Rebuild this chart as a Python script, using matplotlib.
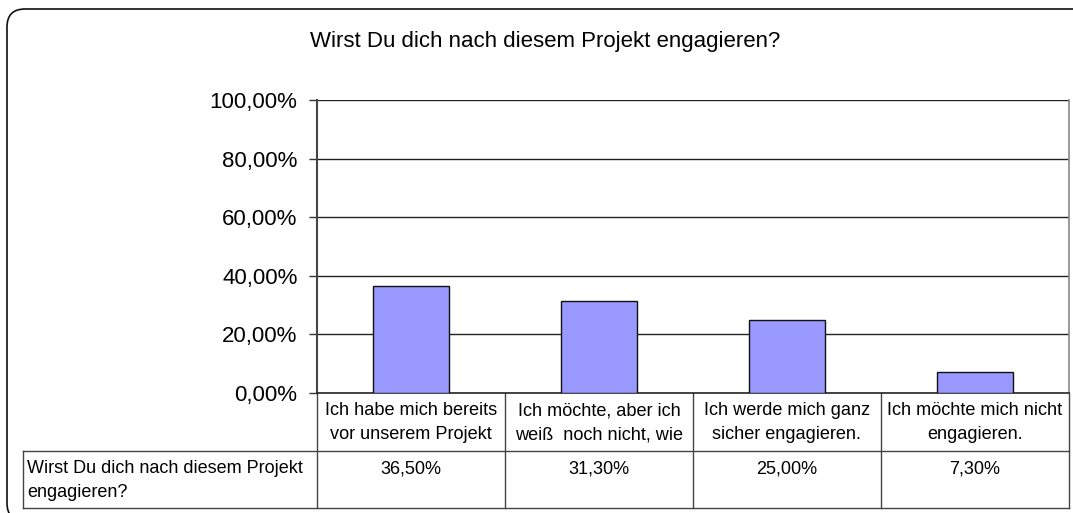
import numpy as np
import matplotlib
matplotlib.use("Agg")
import matplotlib.pyplot as plt
from matplotlib.patches import FancyBboxPatch
from matplotlib.transforms import blended_transform_factory
from matplotlib.ticker import FuncFormatter

plt.rcParams['font.family'] = ['Liberation Sans', 'DejaVu Sans']

TITLE = "Wirst Du dich nach diesem Projekt engagieren?"
SERIES = "Wirst Du dich nach diesem Projekt\nengagieren?"
CATS = ["Ich habe mich bereits\nvor unserem Projekt",
        "Ich möchte, aber ich\nweiß  noch nicht, wie",
        "Ich werde mich ganz\nsicher engagieren.",
        "Ich möchte mich nicht\nengagieren."]
VALUES = [36.5, 31.3, 25.0, 7.3]
YTICKS = [0, 20, 40, 60, 80, 100]

W, H = 1073, 513
fig = plt.figure(figsize=(W / 100, H / 100), dpi=100)

# outer rounded frame (partly cut off right/bottom, as in the original export)
frame = FancyBboxPatch((0.07, -0.08), 10.9, 5.12, boxstyle="round,pad=0,rounding_size=0.18",
                       transform=fig.dpi_scale_trans, fc="none", ec="#111111", lw=1.2, zorder=-1)
fig.patches.append(frame)

ax = fig.add_axes([317 / W, 120 / H, 752 / W, 293 / H])
ax.set_facecolor("none")
x = np.arange(len(CATS))
ax.bar(x, VALUES, width=0.40, color="#9999ff", edgecolor="#111111", lw=1.0, zorder=3)
ax.set_xlim(-0.5, len(CATS) - 0.5)
ax.set_ylim(0, 100)
ax.set_yticks(YTICKS)
ax.yaxis.set_major_formatter(FuncFormatter(lambda v, p: f"{v:.2f}%".replace(".", ",")))
ax.tick_params(axis="y", labelsize=16, length=6, width=1, color="#333333", pad=8)
ax.set_xticks([])
for v in YTICKS[1:]:
    ax.axhline(v, color="#222222", lw=1.0, zorder=1)
ax.spines["top"].set_visible(False)
ax.spines["left"].set_color("#444444"); ax.spines["left"].set_linewidth(1.5)
ax.spines["bottom"].set_color("#222222"); ax.spines["bottom"].set_linewidth(1.2)
ax.spines["right"].set_color("#888888"); ax.spines["right"].set_linewidth(1.2)

fig.text(545 / W, 1 - 42 / H, TITLE, ha="center", va="center", fontsize=16)

# data table under the plot: columns follow the category axis, rows in axes units
tr = blended_transform_factory(ax.transData, ax.transAxes)
r1 = -(451 - 393) / 293
r2 = -(508 - 393) / 293
x_left = -0.5 - (317 - 23) / 188
lc = "#444444"
for xb in np.arange(-0.5, len(CATS), 1.0):
    ax.plot([xb, xb], [0, r2], color=lc, lw=1.0, transform=tr, clip_on=False)
ax.plot([x_left, x_left], [r1, r2], color=lc, lw=1.0, transform=tr, clip_on=False)
ax.plot([x_left, len(CATS) - 0.5], [r1, r1], color=lc, lw=1.0, transform=tr, clip_on=False)
ax.plot([x_left, len(CATS) - 0.5], [r2, r2], color=lc, lw=1.0, transform=tr, clip_on=False)

fs = 13.1
for i, (c, v) in enumerate(zip(CATS, VALUES)):
    ax.text(i, -9 / 293, c, transform=tr, ha="center", va="top", fontsize=fs,
            linespacing=1.55)
    ax.text(i, r1 - 9 / 293, f"{v:.2f}%".replace(".", ","), transform=tr,
            ha="center", va="top", fontsize=fs)
ax.text(x_left + 4 / 188, r1 - 9 / 293, SERIES, transform=tr, ha="left", va="top",
        fontsize=13.0, linespacing=1.55)

fig.savefig("out.png", dpi=100)
